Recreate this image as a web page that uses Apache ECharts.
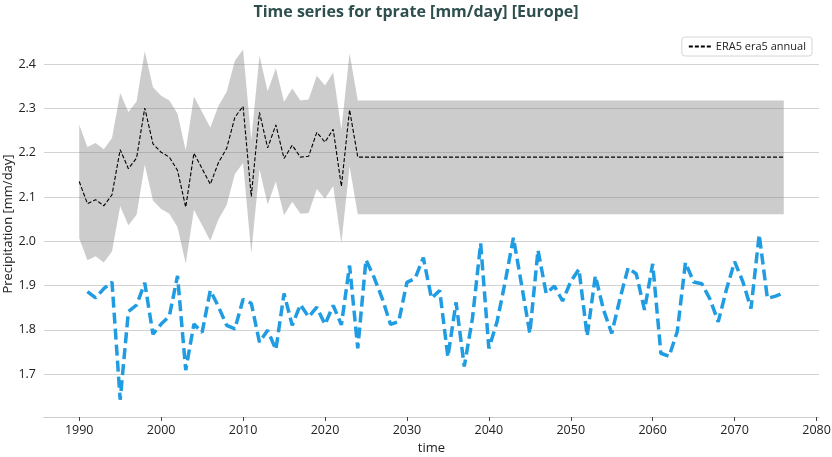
<!DOCTYPE html>
<html><head><meta charset="utf-8">
<script src="https://cdn.jsdelivr.net/npm/echarts@6/dist/echarts.min.js"></script>
<style>html,body{margin:0;padding:0;background:#fff}#c{width:832px;height:457px}</style>
</head><body><div id="c"></div>
<script>
// ERA5 annual (1990-2023)
const annualYears = [1990,1991,1992,1993,1994,1995,1996,1997,1998,1999,2000,2001,2002,2003,2004,2005,2006,2007,2008,2009,2010,2011,2012,2013,2014,2015,2016,2017,2018,2019,2020,2021,2022,2023];
const annualMean = [2.135,2.085,2.094,2.080,2.105,2.207,2.164,2.188,2.301,2.220,2.201,2.190,2.160,2.077,2.199,2.164,2.129,2.178,2.210,2.280,2.305,2.101,2.291,2.211,2.263,2.187,2.217,2.190,2.192,2.246,2.224,2.253,2.124,2.297];
const annualUpper = [2.263,2.213,2.222,2.208,2.233,2.335,2.292,2.316,2.429,2.348,2.329,2.318,2.288,2.205,2.327,2.292,2.257,2.306,2.338,2.408,2.433,2.229,2.419,2.339,2.391,2.315,2.345,2.318,2.320,2.374,2.352,2.381,2.252,2.425];
const annualLower = [2.007,1.957,1.966,1.952,1.977,2.079,2.036,2.060,2.173,2.092,2.073,2.062,2.032,1.949,2.071,2.036,2.001,2.050,2.082,2.152,2.177,1.973,2.163,2.083,2.135,2.059,2.089,2.062,2.064,2.118,2.096,2.125,1.996,2.169];
// climatology extension (2024-2076)
const climYears = [2024, 2076];
const climMean = [2.190, 2.190];
const climUpper = [2.318, 2.318];
const climLower = [2.061, 2.061];
// model series (1991-2076)
const modelYears = [1991,1992,1993,1994,1995,1996,1997,1998,1999,2000,2001,2002,2003,2004,2005,2006,2007,2008,2009,2010,2011,2012,2013,2014,2015,2016,2017,2018,2019,2020,2021,2022,2023,2024,2025,2026,2027,2028,2029,2030,2031,2032,2033,2034,2035,2036,2037,2038,2039,2040,2041,2042,2043,2044,2045,2046,2047,2048,2049,2050,2051,2052,2053,2054,2055,2056,2057,2058,2059,2060,2061,2062,2063,2064,2065,2066,2067,2068,2069,2070,2071,2072,2073,2074,2075,2076];
const modelValues = [1.886,1.872,1.893,1.908,1.642,1.841,1.856,1.906,1.790,1.813,1.831,1.922,1.709,1.813,1.794,1.889,1.852,1.810,1.802,1.869,1.860,1.772,1.799,1.755,1.882,1.810,1.857,1.829,1.851,1.812,1.855,1.811,1.945,1.758,1.958,1.918,1.870,1.812,1.819,1.907,1.916,1.963,1.871,1.889,1.739,1.862,1.717,1.826,1.995,1.758,1.818,1.909,2.008,1.901,1.792,1.980,1.882,1.899,1.865,1.909,1.937,1.786,1.922,1.845,1.792,1.870,1.940,1.926,1.845,1.949,1.747,1.740,1.796,1.952,1.908,1.904,1.869,1.818,1.891,1.954,1.909,1.848,2.015,1.871,1.876,1.884];
const xTicks = [1990,2000,2010,2020,2030,2040,2050,2060,2070,2080];
const yTicks = [1.7,1.8,1.9,2.0,2.1,2.2,2.3,2.4];

const years = annualYears.concat(climYears);
const mean = annualMean.concat(climMean);
const upper = annualUpper.concat(climUpper);
const lower = annualLower.concat(climLower);

const FONT = 'Open Sans';
const chart = echarts.init(document.getElementById('c'), null, {renderer: 'canvas'});
chart.setOption({
  backgroundColor: '#ffffff',
  animation: false,
  textStyle: {fontFamily: FONT},
  title: {
    text: 'Time series for tprate [mm/day] [Europe]',
    left: 'center', top: -1,
    textStyle: {fontFamily: FONT, fontSize: 16, fontWeight: 'bold', color: '#2f4f4f'}
  },
  legend: {
    data: [{name: 'ERA5 era5 annual', itemStyle: {opacity: 0}}],
    right: 20, top: 37,
    padding: [4, 6],
    borderColor: '#d6d6d6', borderWidth: 1, borderRadius: 3,
    itemWidth: 22, itemHeight: 10, itemGap: 8,
    textStyle: {fontFamily: FONT, fontSize: 11, color: '#222'}
  },
  grid: {left: 44, right: 13, top: 31, bottom: 40, containLabel: false, outerBoundsMode: 'none'},
  xAxis: {
    type: 'value', min: 1985.7, max: 2080.3,
    name: 'time', nameLocation: 'middle', nameGap: 25, nameMoveOverlap: false,
    nameTextStyle: {fontFamily: FONT, fontSize: 13, color: '#222'},
    axisLine: {show: true, lineStyle: {color: '#cccccc', width: 1.2}},
    axisTick: {show: true, length: 4, customValues: xTicks, lineStyle: {color: '#444'}},
    axisLabel: {customValues: xTicks, formatter: v => String(Math.round(v)), fontFamily: FONT, fontSize: 12.5, color: '#222', margin: 7},
    splitLine: {show: false}
  },
  yAxis: {
    type: 'value', min: 1.603, max: 2.475,
    name: 'Precipitation [mm/day]', nameLocation: 'middle', nameGap: 29, nameMoveOverlap: false,
    nameTextStyle: {fontFamily: FONT, fontSize: 13, color: '#222'},
    axisLine: {show: false},
    axisTick: {show: false, customValues: yTicks},
    axisLabel: {customValues: yTicks, formatter: v => v.toFixed(1), fontFamily: FONT, fontSize: 12.5, color: '#222', margin: 8},
    splitLine: {show: true, lineStyle: {color: '#d3d3d3', width: 1.2}}
  },
  series: [
    {
      name: 'band', type: 'custom', silent: true, z: 1,
      data: [[2000, 2.0]],
      renderItem: function (params, api) {
        const pts = [];
        for (let i = 0; i < years.length; i++) pts.push(api.coord([years[i], upper[i]]));
        for (let i = years.length - 1; i >= 0; i--) pts.push(api.coord([years[i], lower[i]]));
        return {type: 'polygon', shape: {points: pts}, style: {fill: 'rgba(128,128,128,0.4)'}};
      }
    },
    {
      name: 'ERA5 era5 annual', type: 'line', symbol: 'none',
      data: years.map((y, i) => [y, mean[i]]),
      lineStyle: {color: '#000000', width: 1.1, type: [4, 2]},
      itemStyle: {color: '#000000'}, z: 3
    },
    {
      name: 'model', type: 'line', symbol: 'none',
      data: modelYears.map((y, i) => [y, modelValues[i]]),
      lineStyle: {color: '#1f9ce2', width: 3.5, type: [11, 5]},
      itemStyle: {color: '#1f9ce2'}, z: 4
    }
  ]
});
</script></body></html>
